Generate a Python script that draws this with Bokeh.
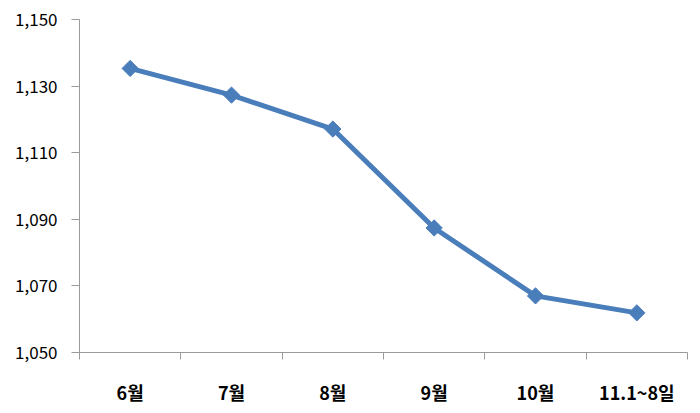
import math
from bokeh.plotting import figure
from bokeh.models import Range1d, FixedTicker, NumeralTickFormatter, ColumnDataSource
from bokeh.embed import file_html
from bokeh.resources import INLINE

categories = ["6월", "7월", "8월", "9월", "10월", "11.1~8일"]
values = [1135.3, 1127.3, 1117.1, 1087.4, 1067.0, 1061.9]
y_ticks = [1050, 1070, 1090, 1110, 1130, 1150]

xs = [i + 0.5 for i in range(len(categories))]
src = ColumnDataSource(dict(x=xs, y=values))

p = figure(width=692, height=407, output_backend="svg", toolbar_location=None,
           x_range=Range1d(0, len(categories)), y_range=Range1d(y_ticks[0], y_ticks[-1]),
           min_border_left=79, min_border_right=5, min_border_top=19, min_border_bottom=53)
p.outline_line_color = None
p.grid.visible = False
p.background_fill_color = "white"
p.border_fill_color = "white"

color = "#4A7EBB"
p.line("x", "y", source=src, line_color=color, line_width=5)
p.scatter("x", "y", source=src, marker="square", angle=math.pi / 4, size=11.5,
          fill_color=color, line_color=color, line_width=1)

axis_col = "#9A9A9A"
font = "Noto Sans CJK KR"

# x axis
xa = p.xaxis[0]
xa.ticker = FixedTicker(ticks=xs, minor_ticks=list(range(len(categories) + 1)))
xa.major_label_overrides = {x: c for x, c in zip(xs, categories)}
xa.major_tick_line_color = None
xa.major_tick_out = 0
xa.major_tick_in = 0
xa.minor_tick_line_color = axis_col
xa.minor_tick_out = 7
xa.minor_tick_in = 0
xa.axis_line_color = axis_col
xa.major_label_text_font = font
xa.major_label_text_font_size = "18px"
xa.major_label_text_font_style = "bold"
xa.major_label_text_color = "black"
xa.major_label_standoff = 19

# y axis
ya = p.yaxis[0]
ya.ticker = FixedTicker(ticks=y_ticks)
ya.formatter = NumeralTickFormatter(format="0,0")
ya.major_tick_line_color = axis_col
ya.major_tick_out = 8
ya.major_tick_in = 0
ya.minor_tick_line_color = None
ya.axis_line_color = axis_col
ya.major_label_text_font = font
ya.major_label_text_font_size = "17px"
ya.major_label_text_color = "black"
ya.major_label_standoff = 14

open("out.html", "w").write(file_html(p, INLINE))
